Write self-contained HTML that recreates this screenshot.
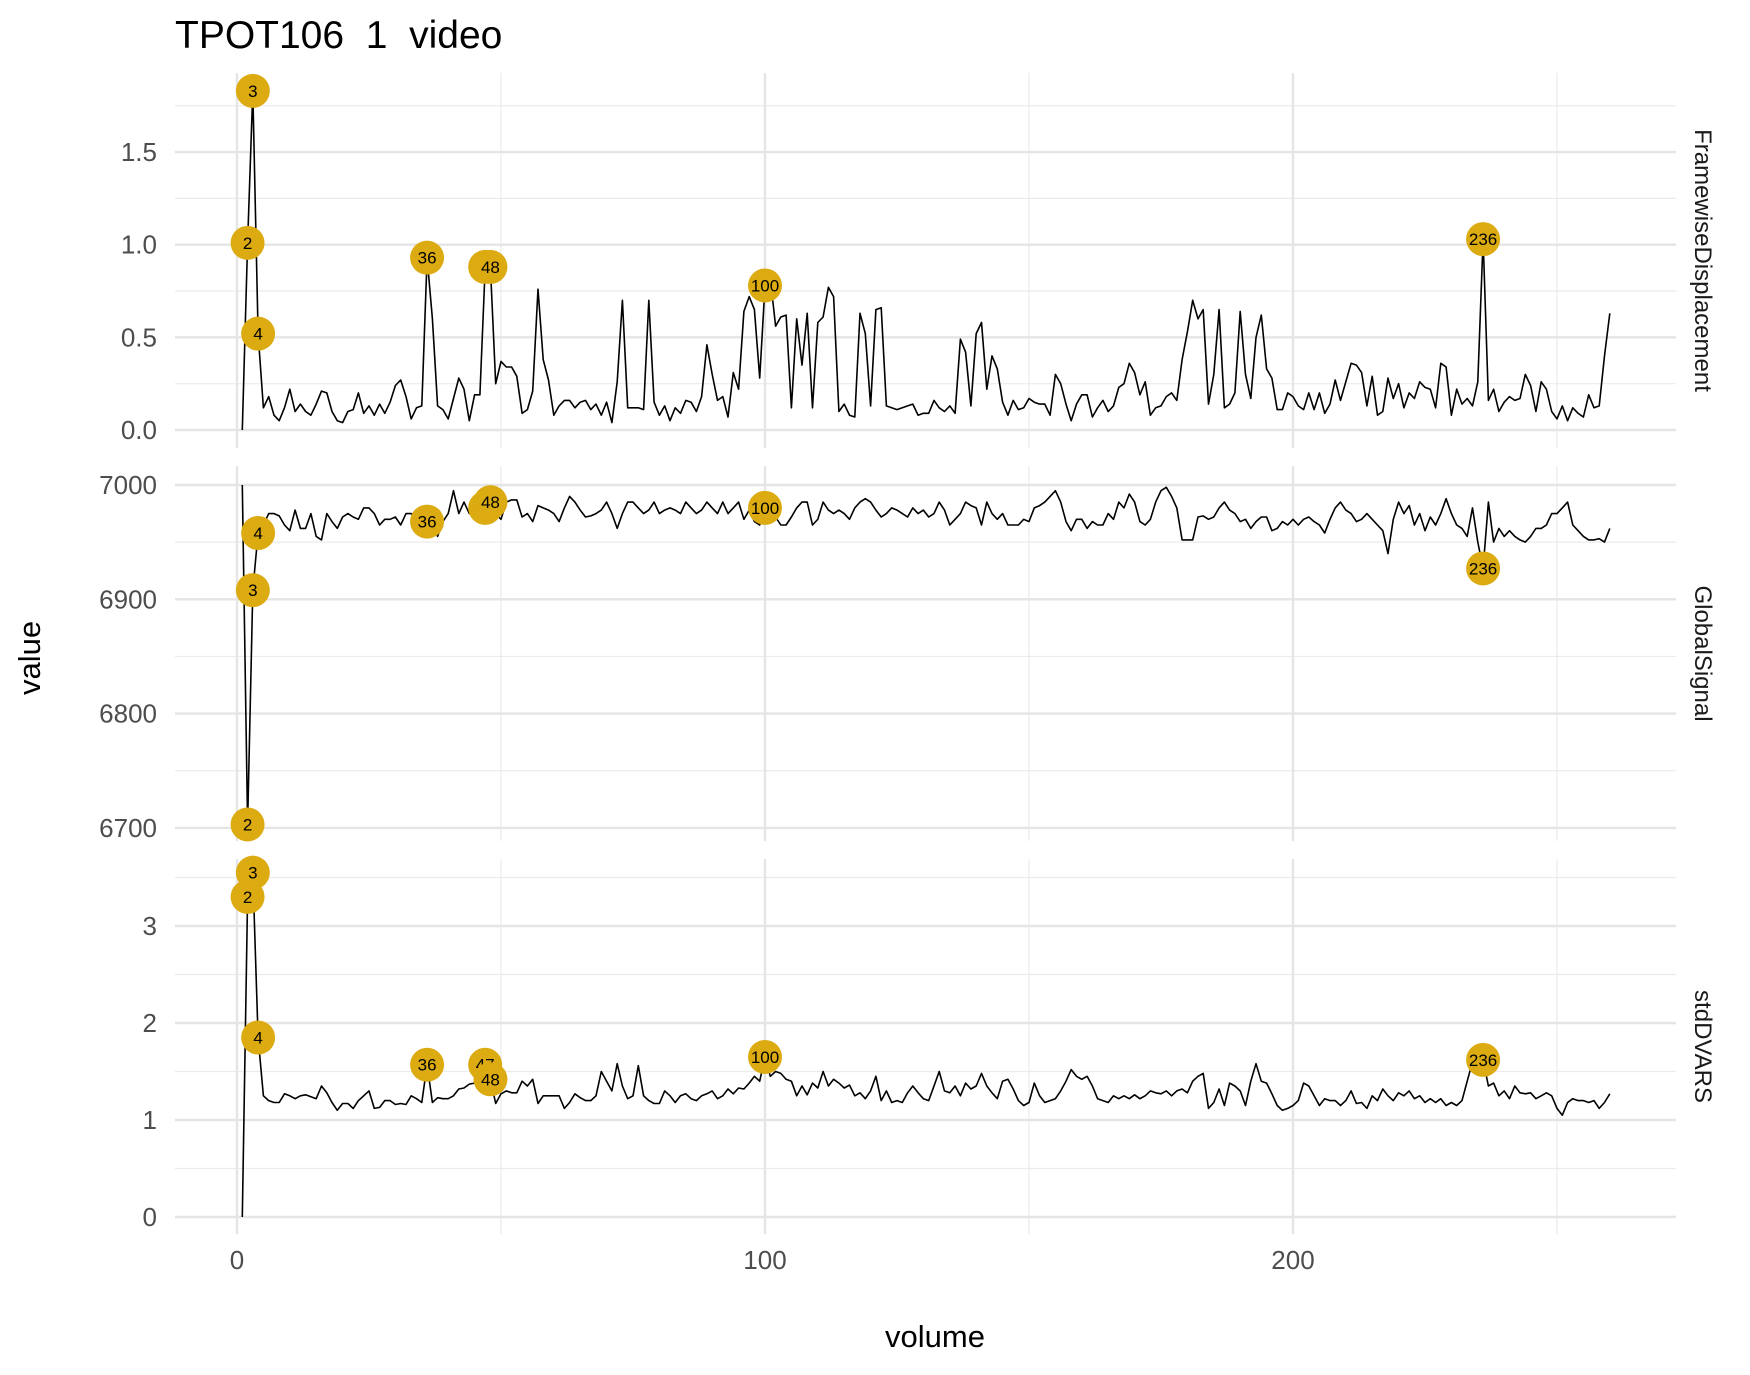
<!DOCTYPE html>
<html><head><meta charset="utf-8"><style>
html,body{margin:0;padding:0;background:#fff}
svg{display:block;font-family:"Liberation Sans",Arial,sans-serif}
</style></head><body>
<svg id="chart" width="1750" height="1375" viewBox="0 0 1750 1375" xmlns="http://www.w3.org/2000/svg">
<text x="175" y="48" font-size="39" fill="#000" style="white-space:pre" xml:space="preserve">TPOT106  1  video</text>
<text transform="translate(40,658) rotate(-90)" text-anchor="middle" font-size="31" fill="#000">value</text>
<text x="935" y="1347" text-anchor="middle" font-size="31" fill="#000">volume</text>
<g id="panels"></g>
</svg>
<script>
const fdValues=[0,1.01,1.83,0.52,0.12,0.18,0.08,0.05,0.12,0.22,0.1,0.14,0.1,0.08,0.14,0.21,0.2,0.1,0.05,0.04,0.1,0.11,0.2,0.09,0.13,0.08,0.14,0.09,0.15,0.24,0.27,0.18,0.06,0.12,0.13,0.93,0.6,0.13,0.11,0.06,0.17,0.28,0.22,0.05,0.19,0.19,0.88,0.88,0.25,0.37,0.34,0.34,0.29,0.09,0.11,0.21,0.76,0.38,0.27,0.08,0.13,0.16,0.16,0.12,0.15,0.16,0.11,0.14,0.08,0.15,0.04,0.26,0.7,0.12,0.12,0.12,0.11,0.7,0.15,0.08,0.13,0.05,0.12,0.09,0.16,0.15,0.1,0.18,0.46,0.3,0.16,0.18,0.07,0.31,0.22,0.64,0.72,0.65,0.28,0.78,0.82,0.56,0.61,0.62,0.12,0.6,0.35,0.63,0.12,0.58,0.61,0.77,0.72,0.1,0.14,0.08,0.07,0.63,0.52,0.13,0.65,0.66,0.13,0.12,0.11,0.12,0.13,0.14,0.08,0.09,0.09,0.16,0.12,0.1,0.13,0.09,0.49,0.42,0.13,0.52,0.58,0.22,0.4,0.33,0.15,0.08,0.16,0.11,0.12,0.17,0.15,0.14,0.14,0.08,0.3,0.25,0.14,0.05,0.14,0.19,0.19,0.07,0.12,0.16,0.1,0.13,0.23,0.25,0.36,0.31,0.19,0.26,0.08,0.12,0.13,0.18,0.2,0.16,0.38,0.53,0.7,0.6,0.65,0.14,0.3,0.65,0.12,0.14,0.2,0.64,0.3,0.17,0.5,0.62,0.33,0.28,0.11,0.11,0.2,0.18,0.13,0.11,0.2,0.11,0.2,0.09,0.14,0.27,0.16,0.26,0.36,0.35,0.31,0.13,0.29,0.08,0.1,0.28,0.17,0.25,0.12,0.2,0.17,0.26,0.23,0.22,0.12,0.36,0.34,0.08,0.22,0.14,0.17,0.13,0.26,1.03,0.16,0.22,0.1,0.15,0.18,0.16,0.17,0.3,0.24,0.1,0.26,0.22,0.1,0.06,0.13,0.05,0.12,0.09,0.07,0.19,0.12,0.13,0.4,0.63];
const gsValues=[7000,6703,6908,6958,6965,6975,6975,6973,6965,6960,6978,6962,6962,6975,6955,6952,6975,6968,6962,6972,6975,6972,6970,6980,6980,6975,6965,6970,6970,6972,6965,6975,6975,6970,6968,6968,6965,6955,6968,6975,6995,6975,6985,6975,6990,6985,6980,6985,6975,6970,6985,6987,6987,6972,6975,6968,6982,6980,6978,6975,6968,6980,6990,6985,6978,6972,6973,6975,6978,6985,6975,6962,6975,6985,6985,6980,6975,6978,6985,6975,6978,6980,6978,6975,6985,6980,6975,6978,6985,6980,6975,6985,6975,6980,6985,6970,6978,6968,6965,6980,6975,6972,6965,6965,6972,6980,6985,6985,6965,6970,6985,6978,6975,6978,6975,6970,6980,6985,6988,6985,6978,6972,6975,6980,6978,6975,6972,6980,6975,6978,6972,6975,6985,6978,6965,6970,6975,6985,6982,6980,6965,6985,6975,6970,6975,6965,6965,6965,6970,6968,6980,6982,6985,6990,6995,6985,6968,6960,6970,6970,6962,6968,6965,6965,6975,6970,6985,6980,6992,6985,6968,6965,6970,6985,6995,6998,6990,6980,6952,6952,6952,6972,6973,6970,6972,6980,6985,6978,6975,6968,6970,6962,6968,6972,6972,6960,6962,6968,6965,6970,6965,6970,6972,6968,6965,6958,6970,6980,6985,6978,6975,6968,6970,6975,6970,6965,6960,6940,6970,6985,6975,6982,6965,6975,6960,6972,6965,6975,6988,6975,6965,6962,6955,6980,6950,6927,6985,6950,6962,6955,6960,6955,6952,6950,6955,6962,6962,6965,6975,6975,6980,6985,6965,6960,6955,6952,6952,6953,6950,6962];
const sdValues=[0,3.3,3.55,1.85,1.25,1.2,1.18,1.18,1.27,1.25,1.22,1.25,1.26,1.24,1.22,1.35,1.28,1.18,1.1,1.17,1.17,1.12,1.2,1.25,1.3,1.12,1.13,1.2,1.2,1.16,1.17,1.16,1.25,1.22,1.18,1.57,1.18,1.23,1.22,1.22,1.25,1.32,1.33,1.37,1.38,1.45,1.57,1.42,1.17,1.27,1.3,1.28,1.28,1.4,1.35,1.42,1.17,1.25,1.25,1.25,1.25,1.12,1.18,1.27,1.23,1.2,1.2,1.25,1.5,1.4,1.3,1.58,1.35,1.22,1.25,1.56,1.25,1.2,1.17,1.17,1.3,1.25,1.18,1.25,1.27,1.22,1.2,1.25,1.27,1.3,1.22,1.25,1.32,1.27,1.33,1.32,1.38,1.45,1.4,1.65,1.45,1.5,1.48,1.42,1.4,1.25,1.35,1.26,1.38,1.33,1.5,1.35,1.42,1.38,1.33,1.36,1.25,1.28,1.22,1.3,1.45,1.2,1.3,1.18,1.2,1.18,1.28,1.35,1.28,1.22,1.2,1.35,1.5,1.3,1.28,1.35,1.25,1.38,1.32,1.35,1.48,1.35,1.28,1.22,1.4,1.42,1.32,1.2,1.15,1.18,1.38,1.25,1.18,1.2,1.22,1.3,1.4,1.52,1.45,1.42,1.45,1.35,1.22,1.2,1.18,1.25,1.22,1.25,1.22,1.26,1.22,1.25,1.3,1.28,1.27,1.3,1.25,1.3,1.32,1.28,1.4,1.45,1.48,1.12,1.18,1.32,1.15,1.38,1.35,1.3,1.15,1.4,1.58,1.4,1.38,1.27,1.15,1.1,1.12,1.15,1.2,1.38,1.35,1.25,1.15,1.22,1.2,1.2,1.15,1.2,1.3,1.17,1.18,1.12,1.25,1.2,1.32,1.25,1.2,1.28,1.25,1.3,1.22,1.25,1.18,1.22,1.18,1.22,1.15,1.18,1.15,1.2,1.4,1.6,1.62,1.62,1.35,1.38,1.25,1.3,1.22,1.35,1.28,1.27,1.28,1.22,1.25,1.28,1.25,1.12,1.05,1.18,1.22,1.2,1.2,1.18,1.2,1.12,1.18,1.27];
const labelVolumes=[2,3,4,36,47,48,100,236];
const xTicks=[0,100,200];
const xMinor=[50,150,250];
const fdTicks=[0,0.5,1,1.5];
const fdMinor=[0.25,0.75,1.25,1.75];
const gsTicks=[6700,6800,6900,7000];
const gsMinor=[6750,6850,6950];
const sdTicks=[0,1,2,3];
const sdMinor=[0.5,1.5,2.5,3.5];
const fdTickLabels=["0.0","0.5","1.0","1.5"];
const gsTickLabels=["6700","6800","6900","7000"];
const sdTickLabels=["0","1","2","3"];

const NS="http://www.w3.org/2000/svg";
const L=175,R=1676;
function xScale(v){return 237+v*5.28;}
const panels=[
 {name:"FramewiseDisplacement",vals:fdValues,ticks:fdTicks,minor:fdMinor,labels:fdTickLabels,top:73,bot:448,y:v=>430-v*185.3,key:"fd"},
 {name:"GlobalSignal",vals:gsValues,ticks:gsTicks,minor:gsMinor,labels:gsTickLabels,top:466,bot:841,y:v=>485-(v-7000)*1.143,key:"gs"},
 {name:"stdDVARS",vals:sdValues,ticks:sdTicks,minor:sdMinor,labels:sdTickLabels,top:859,bot:1234,y:v=>1217-v*97,key:"sd"}
];
const root=document.getElementById('panels');
function mk(tag,attrs,parent){const e=document.createElementNS(NS,tag);for(const k in attrs)e.setAttribute(k,attrs[k]);(parent||root).appendChild(e);return e;}
panels.forEach(p=>{
 const g=mk('g',{});
 
 
 p.minor.forEach(t=>{const l=mk('line',{x1:L,x2:R,y1:p.y(t),y2:p.y(t),stroke:'#ebebeb','stroke-width':1.2},g);
  
  });
 xMinor.forEach(t=>{const l=mk('line',{x1:xScale(t),x2:xScale(t),y1:p.top,y2:p.bot,stroke:'#ebebeb','stroke-width':1.2},g);
  
  });
 p.ticks.forEach((t,i)=>{const l=mk('line',{x1:L,x2:R,y1:p.y(t),y2:p.y(t),stroke:'#e5e5e5','stroke-width':2.4},g);
  
  
  const tx=mk('text',{x:157,y:p.y(t)+9,'text-anchor':'end','font-size':26,fill:'#4d4d4d'},g);
  tx.textContent=p.labels[i];
  
  });
 xTicks.forEach(t=>{const l=mk('line',{x1:xScale(t),x2:xScale(t),y1:p.top,y2:p.bot,stroke:'#e5e5e5','stroke-width':2.4},g);
  
  });
 const pts=p.vals.map((v,i)=>xScale(i+1).toFixed(1)+','+p.y(v).toFixed(1)).join(' ');
 const line=mk('polyline',{points:pts,fill:'none',stroke:'#000','stroke-width':1.6,'stroke-linejoin':'round'},g);
 
 
 labelVolumes.forEach(vol=>{
  const cx=xScale(vol),cy=p.y(p.vals[vol-1]);
  const c=mk('circle',{cx:cx,cy:cy,r:17,fill:'#dcab12'},g);
  
  
  const t=mk('text',{x:cx,y:cy+6,'text-anchor':'middle','font-size':17,fill:'#000'},g);
  t.textContent=String(vol);
  
  
 });
 const mid=(p.top+p.bot)/2;
 const s=mk('text',{transform:'translate(1695,'+mid+') rotate(90)','text-anchor':'middle','font-size':24,fill:'#1a1a1a'},g);
 s.textContent=p.name;
 
 
});
xTicks.forEach(t=>{const tx=mk('text',{x:xScale(t),y:1269,'text-anchor':'middle','font-size':26,fill:'#4d4d4d'});
 tx.textContent=String(t);
 
 });
</script>
</body></html>
